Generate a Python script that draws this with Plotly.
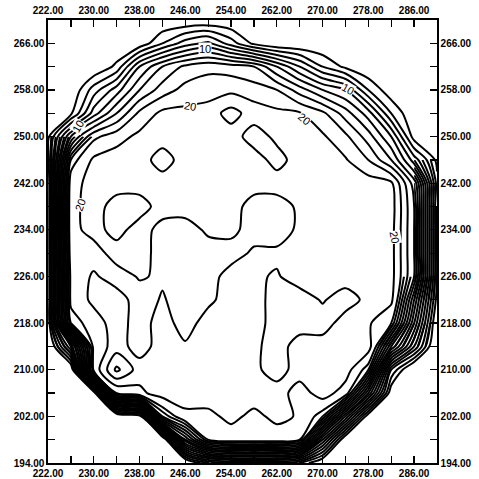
import plotly.graph_objects as go

# grid coordinates (data units)
x_vals = [222, 226, 230, 234, 238, 242, 246, 250, 254, 258, 262, 266, 270, 274, 278, 282, 286, 290]
y_vals = [194, 198, 202, 206, 210, 214, 218, 222, 226, 230, 234, 238, 242, 246, 250, 254, 258, 262, 266, 270]

# field values, one row per y
row_270 = [0, 0, 0, 0, 0, 0, 0, 0, 0, 0, 0, 0, 0, 0, 0, 0, 0, 0]
row_266 = [0, 0, 0, 0, 0.5, 4, 7, 8.5, 5, 1.5, 0, 0, 0, 0, 0, 0, 0, 0]
row_262 = [0, 0, 0, 2.5, 10, 14, 16.5, 17.5, 17, 16, 12, 8, 4, 1.5, 0, 0, 0, 0]
row_258 = [0, 0, 5, 9, 14, 17, 18.7, 19, 19.5, 19, 18, 15, 12, 10, 4, 0.5, 0, 0]
row_254 = [0, 1.5, 9, 14, 18.5, 20.5, 20.6, 21, 22.8, 21, 20.5, 20.2, 18.5, 15, 11, 4, 0, 0]
row_250 = [1.5, 12, 17.5, 19.2, 20.5, 21, 21, 21, 21, 23, 21.5, 21, 20.3, 18.5, 15, 10, 1, 0]
row_246 = [1.5, 17, 20.4, 21, 21, 23, 21, 21, 21, 21, 22.8, 21, 20.6, 20.2, 18, 14, 7, 1.5]
row_242 = [1, 19, 21, 21, 21, 21, 21, 21, 21, 21, 21, 21, 21, 21, 21, 20.5, 13, 2.5]
row_238 = [1, 19.3, 21, 19, 19, 21, 21, 21, 21, 19, 19, 20.4, 21, 21, 21, 21, 14, 2]
row_234 = [1, 19.3, 20.8, 19.2, 21, 19.2, 19, 20.4, 20.6, 19, 19, 20.4, 21, 21, 21, 20.8, 14, 2]
row_230 = [1, 19, 19, 21, 21, 19, 19, 19, 19, 20.4, 20.4, 21, 21, 21, 21, 20.8, 14, 2]
row_226 = [1, 18.5, 20.3, 19, 20.2, 19.7, 19, 19, 21, 20.3, 19.8, 21, 21, 21, 21, 20.8, 14, 2]
row_222 = [1, 18.5, 20.5, 21, 19, 20.2, 19, 19.5, 21, 21, 19, 19, 20.2, 19, 20.6, 20.5, 11, 1.5]
row_218 = [1, 17, 19, 21, 19, 21, 19, 21, 21, 21, 19, 19, 19, 21, 20.3, 18, 9, 0.5]
row_214 = [0, 7, 18.5, 21, 19, 21, 20.3, 21, 21, 20.5, 19, 21, 21, 21, 21, 12, 6, 0]
row_210 = [0, 0.5, 18.5, 24.5, 21, 21, 21, 21, 21, 20.5, 19, 21, 21, 21, 17, 4, 0, 0]
row_206 = [0, 0, 1, 18, 19.5, 21, 21, 21, 21, 21, 21, 19, 21, 19, 10, 1, 0, 0]
row_202 = [0, 0, 0, 0, 1, 16, 19.5, 19.5, 20.5, 19.5, 20.5, 19.8, 17, 9, 1, 0, 0, 0]
row_198 = [0, 0, 0, 0, 0, 0, 12, 18, 19, 19, 19, 18, 8, 0.5, 0, 0, 0, 0]
row_194 = [0, 0, 0, 0, 0, 0, 0, 3, 4, 4, 4, 3, 0.5, 0, 0, 0, 0, 0]

z_rows = [row_194, row_198, row_202, row_206, row_210, row_214, row_218, row_222,
          row_226, row_230, row_234, row_238, row_242, row_246, row_250, row_254,
          row_258, row_262, row_266, row_270]

# axis ticks
x_ticks = list(range(222, 291, 4))
y_ticks = list(range(194, 271, 4))
x_labeled = [222, 230, 238, 246, 254, 262, 270, 278, 286]
y_labeled = [194, 202, 210, 218, 226, 234, 242, 250, 258, 266]

# contour level labels: text, x, y, angle
lab_text = ["10", "10", "10", "20", "20", "20", "20"]
lab_x = [249.5, 274.4, 227.3, 246.8, 266.8, 227.6, 282.6]
lab_y = [265.0, 258.2, 251.8, 255.2, 253.0, 238.3, 232.8]
lab_ang = [0, 30, -60, 10, 40, -70, 80]

LINE = dict(width=2.0, smoothing=0.8)
BLACK = [[0, "black"], [1, "black"]]

fig = go.Figure()
# main contour set: every 2 units
fig.add_trace(go.Contour(
    x=x_vals, y=y_vals, z=z_rows, autocontour=False,
    contours=dict(start=2, end=24, size=2, coloring="lines", showlabels=False),
    colorscale=BLACK, line=LINE, showscale=False, hoverinfo="skip",
))

# the crowded rim (left, bottom, right) is drawn with the odd levels too
def sub(c0, c1, r0, r1):
    return ([x_vals[c] for c in range(c0, c1)],
            [y_vals[r] for r in range(r0, r1)],
            [[z_rows[r][c] for c in range(c0, c1)] for r in range(r0, r1)])

for c0, c1, r0, r1 in [(0, 18, 0, 7), (0, 3, 0, 15), (14, 18, 5, 9), (16, 18, 7, 14)]:
    sx, sy, sz = sub(c0, c1, r0, r1)
    fig.add_trace(go.Contour(
        x=sx, y=sy, z=sz, autocontour=False,
        contours=dict(start=3, end=17, size=2, coloring="lines", showlabels=False),
        colorscale=BLACK, line=LINE, showscale=False, hoverinfo="skip",
    ))

fig.add_trace(go.Scatter(x=[222], y=[194], xaxis="x2", yaxis="y2", mode="markers",
                         marker=dict(opacity=0), showlegend=False, hoverinfo="skip"))

for t, lx, ly, a in zip(lab_text, lab_x, lab_y, lab_ang):
    fig.add_annotation(x=lx, y=ly, text=t, showarrow=False, textangle=a,
                       font=dict(family="Liberation Sans", size=11, color="#000000"),
                       bgcolor="white", borderpad=0)

tick_font = dict(family="Liberation Sans", size=10, color="black", weight="bold")

def fmt(vals, labeled):
    return [f"{v:.2f}" if v in labeled else "" for v in vals]

common = dict(ticks="inside", ticklen=7, tickwidth=1.3, tickcolor="black",
              showline=True, linecolor="black", linewidth=1.6, showgrid=False,
              zeroline=False, tickfont=tick_font, automargin=False)

fig.update_layout(
    width=479, height=479,
    margin=dict(l=48, r=42, t=20, b=16, autoexpand=False),
    paper_bgcolor="white", plot_bgcolor="white",
    showlegend=False,
    xaxis=dict(range=[222, 290], tickmode="array", tickvals=x_ticks,
               ticktext=fmt(x_ticks, x_labeled), side="bottom", **common),
    xaxis2=dict(range=[222, 290], tickmode="array", tickvals=x_ticks,
                ticktext=fmt(x_ticks, x_labeled), side="top", overlaying="x",
                anchor="y", **common),
    yaxis=dict(range=[194, 270], tickmode="array", tickvals=y_ticks,
               ticktext=fmt(y_ticks, y_labeled), side="left", **common),
    yaxis2=dict(range=[194, 270], tickmode="array", tickvals=y_ticks,
                ticktext=fmt(y_ticks, y_labeled), side="right", overlaying="y",
                anchor="x", **common),
)

fig.write_html("out.html", config={"displayModeBar": False, "staticPlot": True},
               post_script="document.body.style.margin='0px';document.body.style.overflow='hidden';")
